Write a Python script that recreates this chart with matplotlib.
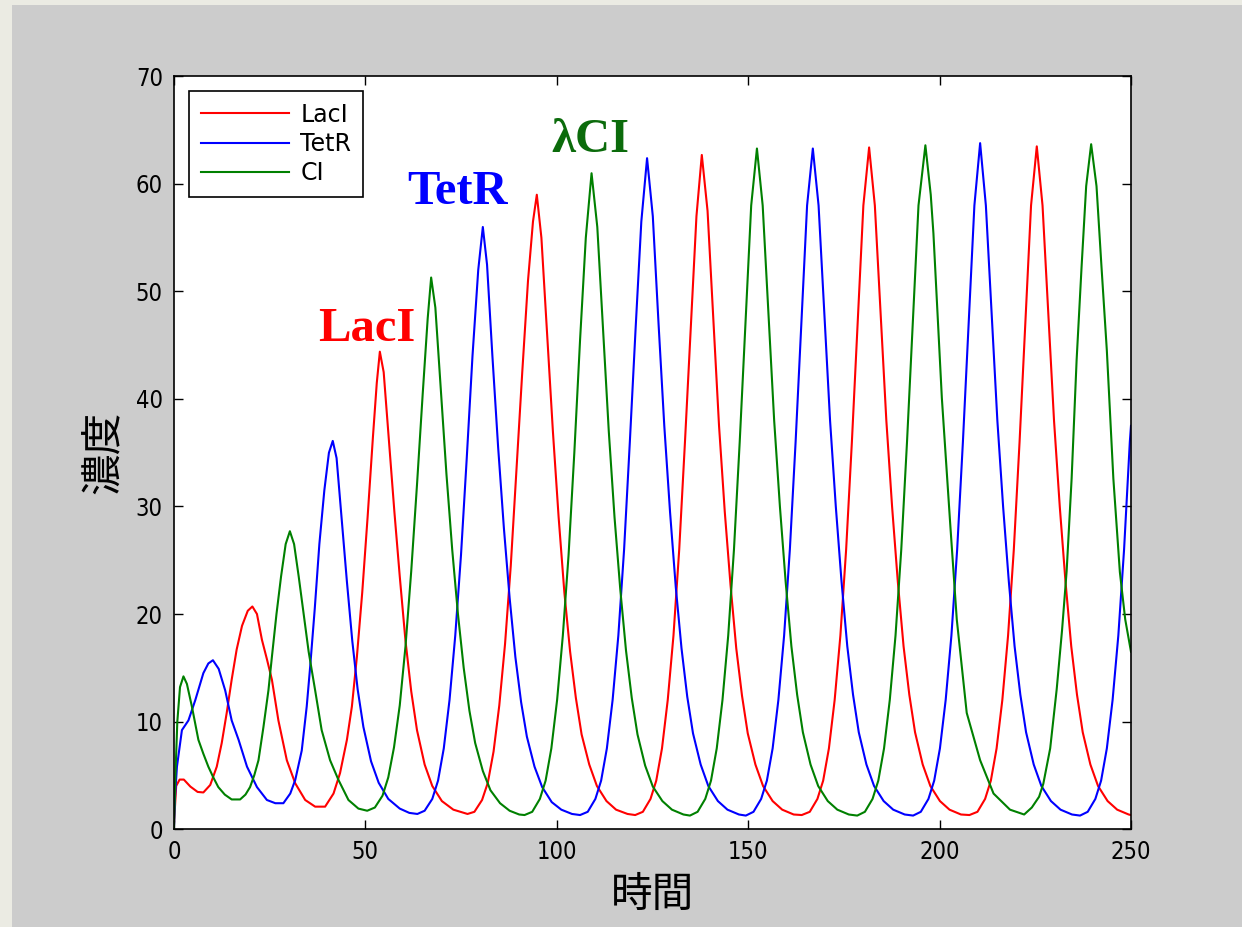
import matplotlib
matplotlib.use("Agg")
import matplotlib.pyplot as plt
from matplotlib.patches import Rectangle

# values (time, concentration)
laci_t = [0, 0.6, 1.5, 2.6, 4.3, 6.2, 7.7, 9.5, 11.2, 12.5, 13.8, 15.1, 16.4, 17.8, 19.3, 20.5,
          21.7, 23.0, 24.3, 25.6, 27.3, 29.5, 31.7, 34.3, 36.9, 39.5, 41.7, 43.4, 45.2, 46.5,
          47.8, 49.2, 50.6, 52.0, 53.0, 53.8, 54.8, 56.2, 57.6, 59.0, 60.5, 62.0, 63.5, 65.5,
          67.5, 70.0, 73.0, 76.7, 78.5, 80.5, 82.0, 83.5, 85.0, 86.5, 88.0, 89.5, 91.0, 92.5,
          93.8, 94.8, 96.0, 97.5, 99.0, 100.5, 102.0, 103.5, 105.0, 106.5, 108.5, 110.5, 113.0,
          115.5, 118.5, 120.5, 122.5, 124.5, 126.0, 127.5, 129.0, 130.5, 132.0, 133.5, 135.0,
          136.5, 137.9, 139.4, 140.9, 142.4, 143.9, 145.4, 146.9, 148.4, 149.9, 151.9, 153.9,
          156.4, 158.9, 161.9, 164.0, 166.1, 168.1, 169.6, 171.1, 172.6, 174.1, 175.6, 177.1,
          178.6, 180.1, 181.6, 183.1, 184.6, 186.1, 187.6, 189.1, 190.6, 192.1, 193.6, 195.6,
          197.6, 200.1, 202.6, 205.6, 207.8, 209.9, 211.9, 213.4, 214.9, 216.4, 217.9, 219.4,
          220.9, 222.4, 223.9, 225.4, 226.9, 228.4, 229.9, 231.4, 232.9, 234.4, 235.9, 237.4,
          239.4, 241.4, 243.9, 246.4, 249.4, 250]
laci_v = [0.3, 4.0, 4.6, 4.6, 3.95, 3.45, 3.4, 4.1, 5.8, 8.0, 10.8, 13.9, 16.7, 18.9, 20.3, 20.7,
          20.0, 17.6, 15.8, 13.9, 10.1, 6.4, 4.25, 2.7, 2.08, 2.08, 3.3, 5.2, 8.3, 11.4,
          16.0, 22.0, 29.0, 36.5, 41.5, 44.4, 42.5, 36.0, 29.5, 23.5, 17.5, 12.8, 9.2, 6.0,
          4.0, 2.6, 1.8, 1.4, 1.6, 2.7, 4.3, 7.2, 11.5, 17.2, 24.5, 33.5, 42.5, 51.0,
          56.5, 59.0, 55.0, 46.0, 37.0, 29.0, 22.0, 16.5, 12.2, 8.8, 6.0, 4.0, 2.6,
          1.8, 1.4, 1.3, 1.6, 2.8, 4.5, 7.5, 12.0, 18.0, 26.0, 36.0, 46.5,
          57.0, 62.7, 57.5, 47.5, 37.5, 29.5, 22.7, 16.8, 12.4, 8.9, 6.0, 4.0,
          2.6, 1.8, 1.35, 1.3, 1.6, 2.8, 4.5, 7.5, 12.0, 18.0, 26.0, 36.0,
          47.0, 58.0, 63.4, 58.0, 48.0, 38.0, 30.0, 23.0, 17.0, 12.5, 9.0, 6.0,
          4.0, 2.6, 1.8, 1.35, 1.3, 1.6, 2.8, 4.5, 7.5, 12.0, 18.0, 26.0,
          36.0, 47.0, 58.0, 63.5, 58.0, 48.0, 38.0, 30.0, 23.0, 17.0, 12.5, 9.0,
          6.0, 4.0, 2.6, 1.8, 1.35, 1.3]

tetr_t = [0, 0.3, 0.8, 2.1, 3.8, 5.6, 7.7, 9.0, 10.2, 11.7, 13.4, 15.1, 16.9, 19.1, 21.7, 24.3,
          26.5, 28.6, 30.4, 31.7, 33.4, 34.7, 35.6, 36.8, 38.0, 39.3, 40.5, 41.5, 42.5, 43.8,
          45.2, 46.6, 48.0, 49.5, 51.5, 53.5, 56.0, 59.0, 61.5, 63.6, 65.5, 67.5, 69.0, 70.5,
          72.0, 73.5, 75.0, 76.5, 78.0, 79.5, 80.7, 81.8, 83.2, 84.7, 86.2, 87.7, 89.2, 90.7,
          92.2, 94.2, 96.2, 98.7, 101.2, 104.0, 106.1, 108.1, 110.1, 111.6, 113.1, 114.6,
          116.1, 117.6, 119.1, 120.6, 122.1, 123.6, 125.1, 126.6, 128.1, 129.6, 131.1, 132.6,
          134.1, 135.6, 137.6, 139.6, 142.1, 144.6, 147.6, 149.4, 151.4, 153.4, 154.9, 156.4,
          157.9, 159.4, 160.9, 162.4, 163.9, 165.4, 166.9, 168.4, 169.9, 171.4, 172.9, 174.4,
          175.9, 177.4, 178.9, 180.9, 182.9, 185.4, 187.9, 190.9, 193.1, 195.1, 197.1, 198.6,
          200.1, 201.6, 203.1, 204.6, 206.1, 207.6, 209.1, 210.6, 212.1, 213.6, 215.1, 216.6,
          218.1, 219.6, 221.1, 222.6, 224.6, 226.6, 229.1, 231.6, 234.6, 236.7, 238.7, 240.7,
          242.2, 243.7, 245.2, 246.7, 248.2, 249.7, 250]
tetr_v = [0.0, 3.0, 5.8, 9.2, 10.1, 12.0, 14.5, 15.4, 15.7, 14.9, 12.9, 10.1, 8.3, 5.8, 3.9, 2.7,
          2.4, 2.4, 3.3, 4.56, 7.3, 11.4, 15.1, 20.5, 26.5, 31.5, 35.0, 36.1, 34.5, 29.0,
          23.0, 17.5, 13.0, 9.5, 6.3, 4.3, 2.8, 1.9, 1.5, 1.4, 1.7, 2.8, 4.5, 7.5,
          12.0, 18.0, 25.5, 34.5, 44.0, 52.0, 56.0, 52.5, 44.0, 35.5, 28.0, 21.5, 16.0, 11.8,
          8.6, 5.8, 3.9, 2.5, 1.8, 1.4, 1.3, 1.6, 2.8, 4.5, 7.5, 12.0,
          18.0, 26.0, 36.0, 46.5, 56.5, 62.4, 57.0, 47.0, 37.5, 29.5, 22.5, 16.8,
          12.3, 8.9, 6.0, 4.0, 2.6, 1.8, 1.35, 1.25, 1.6, 2.8, 4.5, 7.5,
          12.0, 18.0, 26.0, 36.0, 47.0, 58.0, 63.3, 58.0, 48.0, 38.0, 30.0, 23.0,
          17.0, 12.5, 9.0, 6.0, 4.0, 2.6, 1.8, 1.35, 1.25, 1.6, 2.8, 4.5,
          7.5, 12.0, 18.0, 26.0, 36.0, 47.0, 58.0, 63.8, 58.0, 48.0, 38.0, 30.0,
          23.0, 17.0, 12.5, 9.0, 6.0, 4.0, 2.6, 1.8, 1.35, 1.25, 1.6, 2.8,
          4.5, 7.5, 12.0, 18.0, 26.0, 36.0, 37.5]

ci_t = [0, 0.4, 0.9, 1.6, 2.5, 3.4, 4.7, 6.4, 7.7, 9.0, 10.3, 11.6, 13.3, 15.1, 17.3, 18.7,
        19.9, 21.0, 22.1, 23.4, 24.7, 25.6, 26.8, 28.0, 29.2, 30.3, 31.4, 32.6, 33.9, 35.2,
        36.9, 38.6, 40.8, 43.0, 45.6, 48.2, 50.5, 52.5, 54.5, 56.0, 57.5, 59.0, 60.5, 62.0,
        63.5, 65.0, 66.3, 67.2, 68.3, 69.7, 71.2, 72.7, 74.2, 75.7, 77.2, 78.7, 80.7, 82.7,
        85.2, 87.7, 90.2, 91.6, 93.6, 95.6, 97.1, 98.6, 100.1, 101.6, 103.1, 104.6, 106.1,
        107.6, 109.1, 110.6, 112.1, 113.6, 115.1, 116.6, 118.1, 119.6, 121.1, 123.1, 125.1,
        127.6, 130.1, 133.1, 134.8, 136.8, 138.8, 140.3, 141.8, 143.3, 144.8, 146.3, 147.8,
        149.3, 150.8, 152.3, 153.8, 155.3, 156.8, 158.3, 159.8, 161.3, 162.8, 164.3, 166.3,
        168.3, 170.8, 173.3, 176.3, 178.5, 180.5, 182.5, 184.0, 185.5, 187.0, 188.5, 190.0,
        191.5, 193.0, 194.5, 196.3, 197.7, 198.4, 200.6, 202.8, 204.5, 207.1, 210.6, 214.1,
        218.4, 222.1, 224.1, 226.0, 227.1, 228.9, 230.6, 232.0, 233.2, 234.5, 235.8, 237.1,
        238.3, 239.6, 241.0, 242.3, 243.7, 245.4, 247.1, 248.5, 250.0]
ci_v = [0.0, 5.0, 10.0, 13.2, 14.2, 13.5, 11.4, 8.3, 7.0, 5.8, 4.8, 3.9, 3.2, 2.75, 2.75, 3.2,
        3.9, 5.0, 6.4, 9.5, 12.9, 16.0, 20.0, 23.5, 26.5, 27.7, 26.5, 23.5, 20.0, 16.5,
        12.9, 9.2, 6.4, 4.56, 2.7, 1.9, 1.7, 2.0, 3.1, 4.8, 7.6, 11.5, 17.0, 24.0,
        32.0, 40.5, 47.5, 51.3, 48.5, 41.0, 33.0, 26.0, 20.0, 15.0, 11.0, 8.0, 5.4, 3.6,
        2.4, 1.7, 1.35, 1.3, 1.6, 2.8, 4.5, 7.5, 12.0, 18.0, 25.5, 35.0, 45.5,
        55.0, 61.0, 56.0, 46.5, 37.0, 29.0, 22.3, 16.6, 12.2, 8.8, 5.9, 3.95,
        2.6, 1.8, 1.35, 1.25, 1.6, 2.8, 4.5, 7.5, 12.0, 18.0, 26.0, 36.0,
        47.0, 58.0, 63.3, 58.0, 48.0, 38.0, 30.0, 23.0, 17.0, 12.5, 9.0, 6.0,
        4.0, 2.6, 1.8, 1.35, 1.25, 1.6, 2.8, 4.5, 7.5, 12.0, 18.0, 26.0,
        36.0, 47.0, 58.0, 63.6, 59.0, 55.4, 40.1, 28.3, 19.5, 10.8, 6.4, 3.3,
        1.8, 1.35, 2.0, 3.0, 4.2, 7.5, 13.0, 18.5, 24.0, 32.6, 43.6, 52.3,
        59.8, 63.7, 59.8, 52.3, 44.5, 32.6, 23.9, 19.5, 16.5]

series_names = ["LacI", "TetR", "CI"]
x_ticks = [0, 50, 100, 150, 200, 250]
y_ticks = [0, 10, 20, 30, 40, 50, 60, 70]

cjk_font = ["Noto Sans CJK JP", "DejaVu Sans"]
serif_font = ["Liberation Serif", "DejaVu Serif"]

fig = plt.figure(figsize=(12.42, 9.27), dpi=100, facecolor="#cccccc")
# beige frame strips (left and top)
fig.patches.append(Rectangle((0, 0), 12 / 1242, 1, transform=fig.transFigure,
                             facecolor="#ebebe3", edgecolor="none"))
fig.patches.append(Rectangle((0, 1 - 5 / 927), 1, 5 / 927, transform=fig.transFigure,
                             facecolor="#ebebe3", edgecolor="none"))

ax = fig.add_axes([0.140, 0.1057, 0.7706, 0.8118])
ax.plot(laci_t, laci_v, color="#ff0000", lw=1.5, label=series_names[0])
ax.plot(tetr_t, tetr_v, color="#0000ff", lw=1.5, label=series_names[1])
ax.plot(ci_t, ci_v, color="#008000", lw=1.5, label=series_names[2])

ax.set_xlim(0, 250)
ax.set_ylim(0, 70)
ax.set_xticks(x_ticks)
ax.set_yticks(y_ticks)
ax.tick_params(direction="in", length=6.5, width=1, top=True, right=True, pad=8,
               labelsize=17)
for lab in ax.get_xticklabels() + ax.get_yticklabels():
    lab.set_family("DejaVu Sans")
    lab.set_stretch("condensed")
for sp in ax.spines.values():
    sp.set_linewidth(1.2)

ax.set_xlabel("時間", family=cjk_font, fontsize=30, labelpad=8)
ax.set_ylabel("濃度", family=cjk_font, fontsize=30, labelpad=8)

leg = ax.legend(loc="upper left", bbox_to_anchor=(0.0157, 0.981), borderaxespad=0,
                fancybox=False, edgecolor="black", framealpha=1,
                prop={"family": "DejaVu Sans", "size": 17},
                handlelength=3.75, handletextpad=0.47, labelspacing=0.22, borderpad=0.5)
leg.get_frame().set_linewidth(1.2)

# big coloured names above the peaks
ax.text(50.4, 45.4, "LacI", color="#ff0000", family=serif_font, fontsize=35,
        fontweight="bold", ha="center", va="baseline")
ax.text(74.2, 58.1, "TetR", color="#0000ff", family=serif_font, fontsize=35,
        fontweight="bold", ha="center", va="baseline")
ax.text(108.9, 63.0, "λCI", color="#0b6b0b", family=serif_font, fontsize=35,
        fontweight="bold", ha="center", va="baseline")

fig.savefig("out.png", dpi=100, facecolor=fig.get_facecolor())
